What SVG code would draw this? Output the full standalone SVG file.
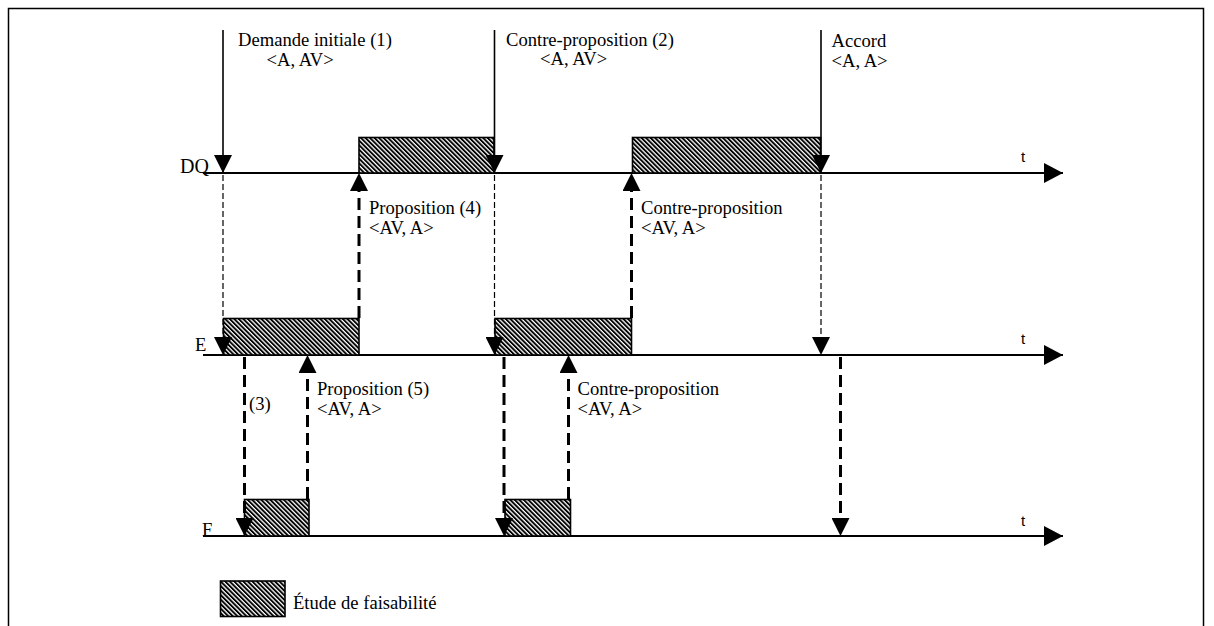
<svg xmlns="http://www.w3.org/2000/svg" width="1214" height="626" viewBox="0 0 1214 626">
<style>
.lbl{font-family:"Liberation Serif","Times New Roman",serif;font-size:18.6px;fill:#000}
.tl{font-family:"Liberation Sans",Arial,sans-serif;font-size:15px;fill:#000}
.axis{stroke:#000;stroke-width:2;fill:none}
.solid{stroke:#000;stroke-width:1.6;fill:none}
.thin{stroke:#000;stroke-width:1.2;stroke-dasharray:6 3;fill:none}
.thick{stroke:#000;stroke-width:3;stroke-dasharray:12 6;fill:none}
.box{fill:url(#hatch);stroke:#000;stroke-width:1.6}
</style>
<defs>
<pattern id="hatch" patternUnits="userSpaceOnUse" width="3.2" height="3.2" patternTransform="rotate(-45)">
<rect x="0" y="0" width="3.2" height="3.2" fill="#fff"/>
<rect x="0" y="0" width="1.9" height="3.2" fill="#000"/>
</pattern>
<marker id="ah" viewBox="0 0 18 18" refX="18" refY="9" markerWidth="18" markerHeight="18" markerUnits="userSpaceOnUse" orient="auto">
<path d="M0,0 L18,9 L0,18 Z" fill="#000"/>
</marker>
<marker id="axh" viewBox="0 0 19 20" refX="19" refY="10" markerWidth="19" markerHeight="20" markerUnits="userSpaceOnUse" orient="auto">
<path d="M0,0 L19,10 L0,20 Z" fill="#000"/>
</marker>
</defs>
<rect x="8.5" y="8.5" width="1195" height="640" fill="none" stroke="#000" stroke-width="1.5"/>

<g id="axis-DQ">
<line class="axis" x1="203" y1="173" x2="1063" y2="173" marker-end="url(#axh)"/>
<text class="lbl" x="180" y="173" style="font-size:20px">DQ</text>
<text class="tl" x="1021" y="162">t</text>
</g>
<g id="axis-E">
<line class="axis" x1="203" y1="355" x2="1063" y2="355" marker-end="url(#axh)"/>
<text class="lbl" x="195" y="351">E</text>
<text class="tl" x="1021" y="344">t</text>
</g>
<g id="axis-F">
<line class="axis" x1="203" y1="536" x2="1063" y2="536" marker-end="url(#axh)"/>
<text class="lbl" x="202" y="536">F</text>
<text class="tl" x="1021" y="526">t</text>
</g>

<g id="studies">
<rect class="box" x="359" y="137.5" width="135" height="35.5"/>
<rect class="box" x="632.5" y="137.5" width="188" height="35.5"/>
<rect class="box" x="223.5" y="318.5" width="135.5" height="36.5"/>
<rect class="box" x="495" y="318.5" width="136.5" height="36.5"/>
<rect class="box" x="244.5" y="499.5" width="64.5" height="36.5"/>
<rect class="box" x="505" y="499.5" width="65.5" height="36.5"/>
</g>

<g id="connectors">
<line class="solid" x1="223" y1="30" x2="223" y2="173" marker-end="url(#ah)"/>
<line class="solid" x1="494.5" y1="30" x2="494.5" y2="173" marker-end="url(#ah)"/>
<line class="solid" x1="821" y1="30" x2="821" y2="173" marker-end="url(#ah)"/>

<line class="thin" x1="223" y1="175" x2="223" y2="355" marker-end="url(#ah)"/>
<line class="thin" x1="494.5" y1="175" x2="494.5" y2="355" marker-end="url(#ah)"/>
<line class="thin" x1="821" y1="175" x2="821" y2="355" marker-end="url(#ah)"/>

<line class="thick" x1="359" y1="318" x2="359" y2="173" marker-end="url(#ah)"/>
<line class="thick" x1="631.5" y1="318" x2="631.5" y2="173" marker-end="url(#ah)"/>

<line class="thick" x1="244.5" y1="357" x2="244.5" y2="536" marker-end="url(#ah)"/>
<line class="thick" x1="504" y1="357" x2="504" y2="536" marker-end="url(#ah)"/>
<line class="thick" x1="840.5" y1="357" x2="840.5" y2="536" marker-end="url(#ah)"/>

<line class="thick" x1="307.5" y1="499" x2="307.5" y2="355" marker-end="url(#ah)"/>
<line class="thick" x1="568.5" y1="499" x2="568.5" y2="355" marker-end="url(#ah)"/>
</g>

<g id="labels">
<text class="lbl" x="238" y="46">Demande initiale (1)</text>
<text class="lbl" x="266.5" y="65.5">&lt;A, AV&gt;</text>
<text class="lbl" x="506" y="45.5">Contre-proposition (2)</text>
<text class="lbl" x="540" y="65">&lt;A, AV&gt;</text>
<text class="lbl" x="831.5" y="47">Accord</text>
<text class="lbl" x="831.5" y="67">&lt;A, A&gt;</text>
<text class="lbl" x="369" y="214">Proposition (4)</text>
<text class="lbl" x="369" y="233.5">&lt;AV, A&gt;</text>
<text class="lbl" x="641" y="214">Contre-proposition</text>
<text class="lbl" x="641" y="233.5">&lt;AV, A&gt;</text>
<text class="lbl" x="317" y="395">Proposition (5)</text>
<text class="lbl" x="317" y="414.5">&lt;AV, A&gt;</text>
<text class="lbl" x="249" y="410">(3)</text>
<text class="lbl" x="577.5" y="394.5">Contre-proposition</text>
<text class="lbl" x="577.5" y="414.5">&lt;AV, A&gt;</text>
</g>

<g id="legend">
<rect class="box" x="220.5" y="581" width="64.5" height="35.5"/>
<text class="lbl" x="293" y="608.5">Étude de faisabilité</text>
</g>
</svg>
